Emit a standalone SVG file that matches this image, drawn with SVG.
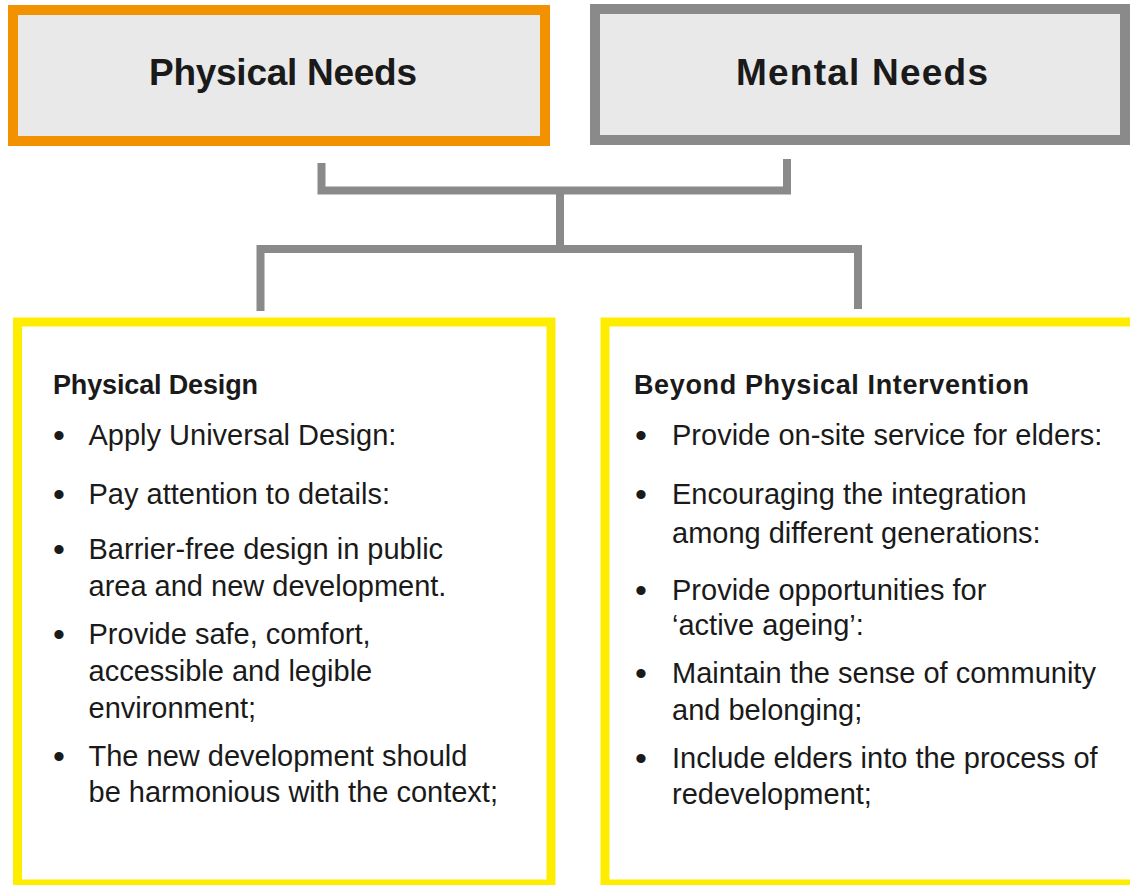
<svg xmlns="http://www.w3.org/2000/svg" width="1130" height="885" viewBox="0 0 1130 885">
<style>
.bg{fill:#ffffff}
.top{fill:#e9e9e9;stroke-width:10}
.orange{stroke:#f39200}
.grey{stroke:#8a8a8a}
.yel{fill:#ffffff;stroke:#ffed00;stroke-width:9}
.conn{fill:none;stroke:#8a8a8a;stroke-width:8;stroke-linejoin:miter;stroke-linecap:butt}
.title{font-family:"Liberation Sans",Arial,sans-serif;font-weight:bold;font-size:37px;fill:#1a1a1a;text-anchor:middle}
.head{font-family:"Liberation Sans",Arial,sans-serif;font-weight:bold;font-size:27px;fill:#1a1a1a}
.body{font-family:"Liberation Sans",Arial,sans-serif;font-size:29px;fill:#1a1a1a}
.bul{font-family:"Liberation Sans",Arial,sans-serif;font-size:34px;fill:#1a1a1a}
</style>
<rect class="bg" x="0" y="0" width="1130" height="885"/>
<g id="connectors">
<path class="conn" d="M321.5 163 V190.5 H787 V159"/>
<path class="conn" d="M560 190.5 V249"/>
<path class="conn" d="M260.5 311 V249 H858 V309"/>
</g>
<g id="physical-needs">
<rect class="top orange" x="13" y="10" width="532" height="131"/>
<text class="title" x="283" y="85" textLength="268">Physical Needs</text>
</g>
<g id="mental-needs">
<rect class="top grey" x="595" y="9" width="530" height="131"/>
<text class="title" x="862" y="85" textLength="252">Mental Needs</text>
</g>
<g id="physical-design">
<rect class="yel" x="17.5" y="322" width="533.5" height="562"/>
<text class="head" x="53" y="394" textLength="205">Physical Design</text>
<text class="bul" x="53" y="447">•</text>
<text class="body" x="88.5" y="445">Apply Universal Design:</text>
<text class="bul" x="53" y="506">•</text>
<text class="body" x="88.5" y="504">Pay attention to details:</text>
<text class="bul" x="53" y="561">•</text>
<text class="body" x="88.5" y="559">Barrier-free design in public</text>
<text class="body" x="88.5" y="596">area and new development.</text>
<text class="bul" x="53" y="646">•</text>
<text class="body" x="88.5" y="644">Provide safe, comfort,</text>
<text class="body" x="88.5" y="681">accessible and legible</text>
<text class="body" x="88.5" y="718">environment;</text>
<text class="bul" x="53" y="768">•</text>
<text class="body" x="88.5" y="766">The new development should</text>
<text class="body" x="88.5" y="802">be harmonious with the context;</text>
</g>
<g id="beyond-physical">
<rect class="yel" x="605" y="322" width="530" height="562"/>
<text class="head" x="634" y="394" textLength="395">Beyond Physical Intervention</text>
<text class="bul" x="635" y="447">•</text>
<text class="body" x="672" y="445">Provide on-site service for elders:</text>
<text class="bul" x="635" y="506">•</text>
<text class="body" x="672" y="504">Encouraging the integration</text>
<text class="body" x="672" y="543">among different generations:</text>
<text class="bul" x="635" y="602">•</text>
<text class="body" x="672" y="600">Provide opportunities for</text>
<text class="body" x="672" y="635">‘active ageing’:</text>
<text class="bul" x="635" y="685">•</text>
<text class="body" x="672" y="683">Maintain the sense of community</text>
<text class="body" x="672" y="720">and belonging;</text>
<text class="bul" x="635" y="770">•</text>
<text class="body" x="672" y="768">Include elders into the process of</text>
<text class="body" x="672" y="804">redevelopment;</text>
</g>
</svg>
